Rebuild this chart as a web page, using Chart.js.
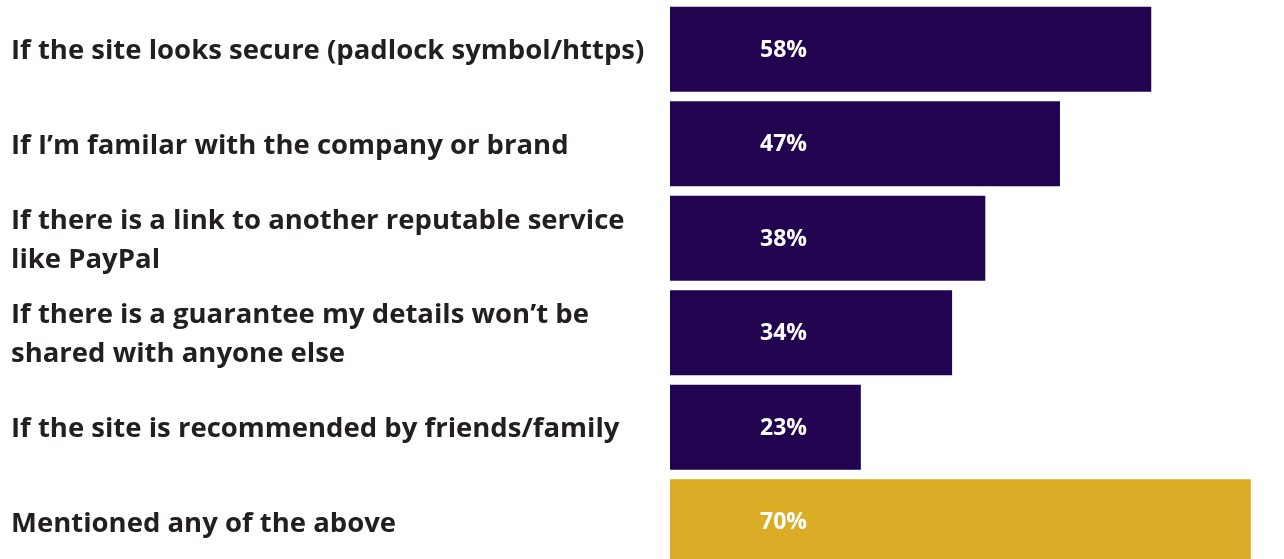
<!DOCTYPE html>
<html>
<head>
<meta charset="utf-8">
<style>
  html, body { margin: 0; padding: 0; background: #fff; overflow: hidden; }
  #wrap { width: 1284px; height: 569px; position: relative; }
</style>
</head>
<body>
<div id="wrap"><canvas id="trustChart"></canvas></div>

<script src="https://cdn.jsdelivr.net/npm/chart.js"></script>
<script>
const categories = [
  'If the site looks secure (padlock symbol/https)',
  'If I\u2019m familar with the company or brand',
  ['If there is a link to another reputable service', 'like PayPal'],
  ['If there is a guarantee my details won\u2019t be', 'shared with anyone else'],
  'If the site is recommended by friends/family',
  'Mentioned any of the above'
];
const percentages = [58, 47, 38, 34, 23, 70];
const barColors = ['#210350', '#210350', '#210350', '#210350', '#210350', '#dbad27'];

// white percentage text inside each bar
const valueLabels = {
  id: 'valueLabels',
  afterDatasetsDraw(chart) {
    const ctx = chart.ctx;
    const meta = chart.getDatasetMeta(0);
    ctx.save();
    ctx.fillStyle = '#ffffff';
    ctx.font = 'bold 23px "Open Sans", sans-serif';
    ctx.textAlign = 'left';
    ctx.textBaseline = 'middle';
    meta.data.forEach((bar, i) => {
      ctx.fillText(percentages[i] + '%', bar.base + 90, bar.y + 1);
    });
    ctx.restore();
  }
};

new Chart(document.getElementById('trustChart'), {
  type: 'bar',
  data: {
    labels: categories,
    datasets: [{
      data: percentages,
      backgroundColor: barColors,
      borderWidth: 0,
      categoryPercentage: 1,
      barPercentage: 0.9
    }]
  },
  options: {
    indexAxis: 'y',
    responsive: true,
    maintainAspectRatio: false,
    animation: false,
    layout: { padding: { left: 11, top: 2, right: 0, bottom: 0 } },
    plugins: {
      legend: { display: false },
      tooltip: { enabled: false }
    },
    scales: {
      x: {
        display: false,
        min: 0,
        max: 74
      },
      y: {
        grid: { display: false },
        border: { display: false },
        afterFit(scale) {
          scale.width = 659;
          // labels sit inside the bands, no extra room needed above/below
          scale.paddingTop = 0;
          scale.paddingBottom = 0;
        },
        ticks: {
          crossAlign: 'far',
          color: '#231f20',
          padding: 0,
          labelOffset: 2,
          font: { family: '"Open Sans", sans-serif', size: 27.5, weight: 'bold', lineHeight: 1.42 }
        }
      }
    }
  },
  plugins: [valueLabels]
});
</script>
</body>
</html>
